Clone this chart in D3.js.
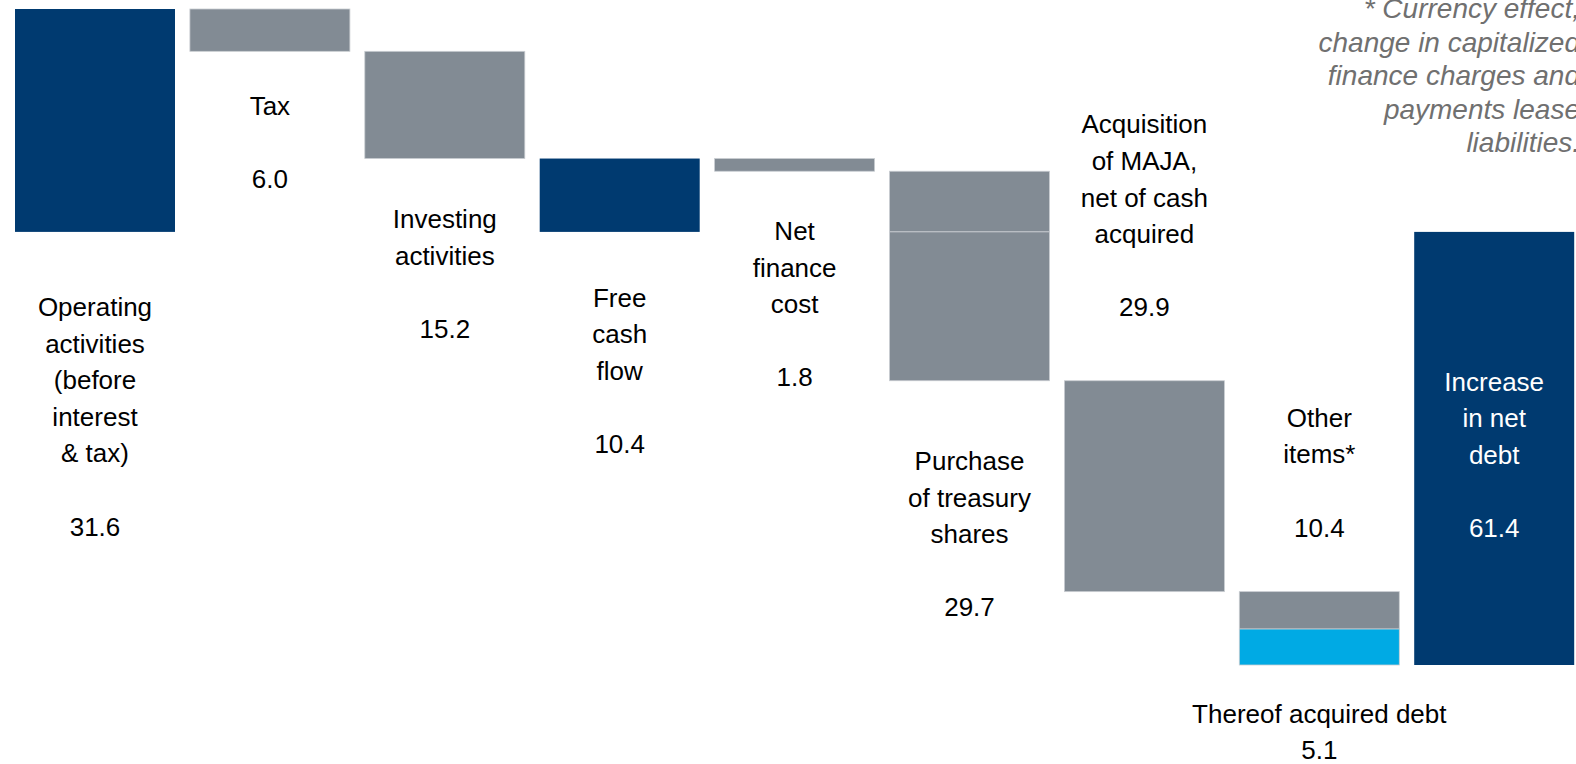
<!DOCTYPE html>
<html>
<head>
<meta charset="utf-8">
<script src="https://cdn.jsdelivr.net/npm/d3@7"></script>
<style>
  html, body { margin: 0; padding: 0; background: #fff; }
  svg { display: block; }
</style>
</head>
<body>
<svg id="chart" width="1576" height="764"></svg>
<script>
// ---------------- DATA ----------------
const categories = [
  "Operating activities (before interest & tax)",
  "Tax",
  "Investing activities",
  "Free cash flow",
  "Net finance cost",
  "Purchase of treasury shares",
  "Acquisition of MAJA, net of cash acquired",
  "Other items*",
  "Increase in net debt"
];
const labelLines = [
  ["Operating", "activities", "(before", "interest", "& tax)"],
  ["Tax"],
  ["Investing", "activities"],
  ["Free", "cash", "flow"],
  ["Net", "finance", "cost"],
  ["Purchase", "of treasury", "shares"],
  ["Acquisition", "of MAJA,", "net of cash", "acquired"],
  ["Other", "items*"],
  ["Increase", "in net", "debt"]
];
const values   = [31.6, -6.0, -15.2, 10.4, -1.8, -29.7, -29.9, -10.4, -61.4];
const barTypes = ["total", "delta", "delta", "total", "delta", "delta", "delta", "delta", "total"];
const thereofLabel = "Thereof acquired debt";
const thereofValue = 5.1;           // part of "Other items*"
const thereofIndex = 7;
const footnoteLines = [
  "* Currency effect,",
  "change in capitalized",
  "finance charges and",
  "payments lease",
  "liabilities."
];

// ---------------- LAYOUT / STYLE ----------------
const W = 1576, H = 764;
const colors = { total: "#003a70", delta: "#828b94", thereof: "#00aae4", stroke: "#c9cdd1" };
const labelFont = "'Liberation Sans', Arial, Helvetica, sans-serif";
const labelSize = 26;
const lineStep = 36.6;
// first-line baseline of each category's text block (px)
const labelFirstBaseline = [316, 115, 228.3, 306.7, 240, 470, 133.3, 426.7, 390.7];
const labelColor = ["#000", "#000", "#000", "#000", "#000", "#000", "#000", "#000", "#fff"];

const svg = d3.select("#chart");

const x = d3.scaleBand()
  .domain(categories)
  .range([15, 1574.2])
  .paddingInner(0.0852)
  .paddingOuter(0);

const y = d3.scaleLinear()
  .domain([-61.4, 31.6])
  .range([665, 9]);

// compute waterfall segments
let running = 0;
const segs = [];
values.forEach((v, i) => {
  let start, end;
  if (barTypes[i] === "total") { start = 0; end = v; running = v; }
  else { start = running; end = running + v; running = end; }
  const lo = Math.min(start, end), hi = Math.max(start, end);
  const color = colors[barTypes[i]];
  if (i === thereofIndex) {
    segs.push({ cat: categories[i], lo: lo + thereofValue, hi: hi, color: color });
    segs.push({ cat: categories[i], lo: lo, hi: lo + thereofValue, color: colors.thereof });
  } else if (lo < 0 && hi > 0 && barTypes[i] === "delta") {
    // split at the zero line
    segs.push({ cat: categories[i], lo: 0, hi: hi, color: color });
    segs.push({ cat: categories[i], lo: lo, hi: 0, color: color });
  } else {
    segs.push({ cat: categories[i], lo: lo, hi: hi, color: color });
  }
});

svg.append("g").selectAll("rect")
  .data(segs)
  .join("rect")
  .attr("x", d => x(d.cat))
  .attr("width", x.bandwidth())
  .attr("y", d => y(d.hi))
  .attr("height", d => y(d.lo) - y(d.hi))
  .attr("fill", d => d.color)
  .attr("stroke", d => d.color === colors.total ? "none" : colors.stroke)
  .attr("stroke-width", 0.8);

// category labels + values
const fmt = d3.format(".1f");
const lg = svg.append("g")
  .attr("font-family", labelFont)
  .attr("font-size", labelSize)
  .attr("text-anchor", "middle");

categories.forEach((c, i) => {
  const cx = x(c) + x.bandwidth() / 2;
  const lines = labelLines[i].concat(["", fmt(Math.abs(values[i]))]);
  const t = lg.append("text").attr("fill", labelColor[i]);
  lines.forEach((ln, k) => {
    if (ln === "") return;
    t.append("tspan")
      .attr("x", cx)
      .attr("y", labelFirstBaseline[i] + k * lineStep)
      .text(ln);
  });
});

// "thereof" annotation
{
  const cx = x(categories[thereofIndex]) + x.bandwidth() / 2;
  const t = lg.append("text").attr("fill", "#000");
  t.append("tspan").attr("x", cx).attr("y", 723.3).text(thereofLabel);
  t.append("tspan").attr("x", cx).attr("y", 759).text(fmt(thereofValue));
}

// footnote (right-aligned, runs just past the right edge as in the reference)
const fn = svg.append("text")
  .attr("font-family", labelFont)
  .attr("font-size", 28)
  .attr("font-style", "italic")
  .attr("fill", "#707070")
  .attr("text-anchor", "end");
footnoteLines.forEach((ln, k) => {
  fn.append("tspan").attr("x", 1580).attr("y", 18.3 + k * 33.4).text(ln);
});
</script>
</body>
</html>
